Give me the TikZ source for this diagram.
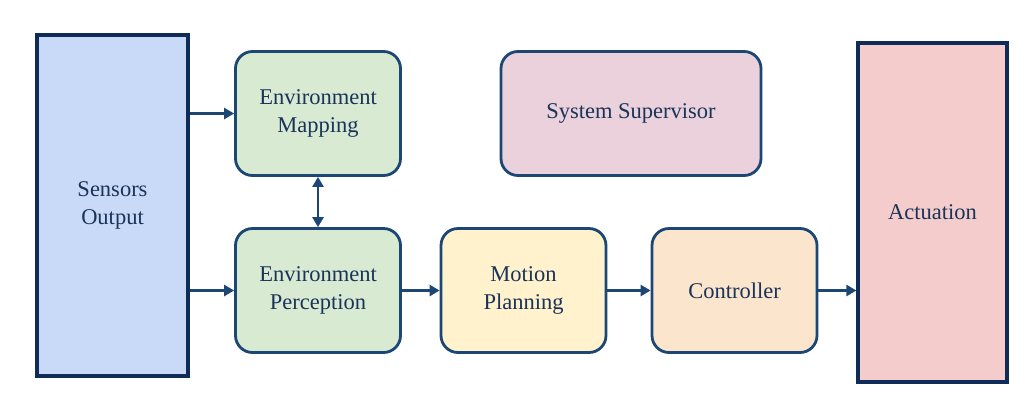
\documentclass[tikz,border=0pt]{standalone}
\usepackage{fontspec}
\setmainfont{Liberation Serif}
\usetikzlibrary{arrows.meta}
\definecolor{navy}{HTML}{0F2B57}
\definecolor{edgeblue}{HTML}{1C4775}
\definecolor{txtblue}{HTML}{1A3358}
\definecolor{sensfill}{HTML}{C9DAF8}
\definecolor{greenfill}{HTML}{D9EAD3}
\definecolor{pinkfill}{HTML}{EAD1DC}
\definecolor{yellowfill}{HTML}{FFF2CC}
\definecolor{orangefill}{HTML}{FCE5CD}
\definecolor{redfill}{HTML}{F4CCCC}
\tikzset{
  bigbox/.style={draw=navy, line width=3.2pt, align=center, text=txtblue, font=\fontsize{22.5}{27.5}\selectfont, inner sep=0pt},
  rbox/.style={draw=edgeblue, line width=2.8pt, rounded corners=17pt, align=center, text=txtblue, font=\fontsize{22.5}{27.5}\selectfont, inner sep=0pt, minimum width=165pt, minimum height=124pt},
  conn/.style={draw=edgeblue, line width=2.8pt, -{Triangle[length=10pt,width=11pt]}},
  dconn/.style={draw=edgeblue, line width=2.8pt, {Triangle[length=10pt,width=11pt]}-{Triangle[length=10pt,width=11pt]}}
}
\begin{document}
\begin{tikzpicture}[x=1pt,y=-1pt]
\useasboundingbox (0,0) rectangle (1036,408);
\fill[white] (0,0) rectangle (1036,408);
\node[bigbox, fill=sensfill, minimum width=151pt, minimum height=341pt] (sens) at (112.5,205.5) {Sensors\\Output};
\node[bigbox, fill=redfill, minimum width=149pt, minimum height=339pt] (act) at (932.5,212.5) {Actuation};
\node[rbox, fill=greenfill] (map) at (318,113.5) {Environment\\Mapping};
\node[rbox, fill=pinkfill, minimum width=260pt] (sup) at (631,113.5) {System Supervisor};
\node[rbox, fill=greenfill] (perc) at (318,290.5) {Environment\\Perception};
\node[rbox, fill=yellowfill] (mot) at (523.5,290.5) {Motion\\Planning};
\node[rbox, fill=orangefill] (ctrl) at (734.5,290.5) {Controller};
\draw[conn] (sens.east |- map.west) -- (map.west);
\draw[conn] (sens.east |- perc.west) -- (perc.west);
\draw[dconn] (map.south) -- (perc.north);
\draw[conn] (perc.east) -- (mot.west);
\draw[conn] (mot.east) -- (ctrl.west);
\draw[conn] (ctrl.east) -- (act.west |- ctrl.east);
\end{tikzpicture}
\end{document}
